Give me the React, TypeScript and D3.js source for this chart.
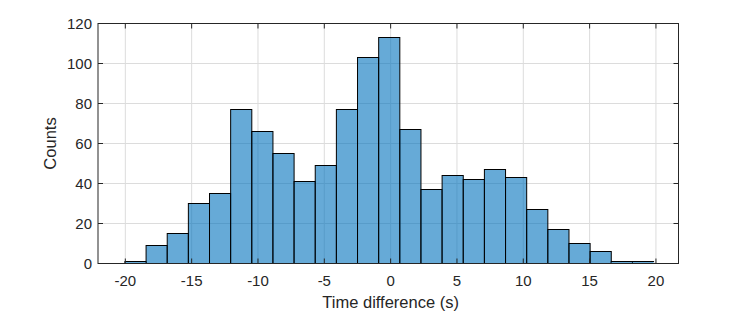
import React from "react";
import * as d3 from "d3";

// histogram counts, 25 bins starting at binStart
const counts = [1, 9, 15, 30, 35, 77, 66, 55, 41, 49, 77, 103, 113, 67, 37, 44, 42, 47, 43, 27, 17, 10, 6, 1, 1];
const binStart = -20.03;
const binWidth = 1.594;
const xTicks = [-20, -15, -10, -5, 0, 5, 10, 15, 20];
const yTicks = [0, 20, 40, 60, 80, 100, 120];

const W = 750;
const H = 312;
const margin = { top: 23.5, right: 71.5, bottom: 48.5, left: 98 };
const font = "Arial, 'Liberation Sans', Helvetica, sans-serif";
const txt = "#262626";

export default function App() {
  const iw = W - margin.left - margin.right;
  const ih = H - margin.top - margin.bottom;

  const x = d3.scaleLinear().domain([-22.06, 21.7]).range([0, iw]);
  const y = d3.scaleLinear().domain([0, 120]).range([ih, 0]);

  const bins = counts.map((c, i) => ({ x0: binStart + i * binWidth, x1: binStart + (i + 1) * binWidth, c }));
  const tick = 5;

  return (
    <svg width={W} height={H} style={{ position: "absolute", left: 0, top: 0, background: "#fff" }}>
      <g transform={`translate(${margin.left},${margin.top})`}>
        {/* grid */}
        {xTicks.map((t) => (
          <line key={"gx" + t} x1={x(t)} x2={x(t)} y1={0} y2={ih} stroke="#dcdcdc" strokeWidth={1} />
        ))}
        {yTicks.map((t) => (
          <line key={"gy" + t} x1={0} x2={iw} y1={y(t)} y2={y(t)} stroke="#dcdcdc" strokeWidth={1} />
        ))}
        {/* bars */}
        {bins.map((b, i) => (
          <rect
            key={i}
            x={x(b.x0)}
            y={y(b.c)}
            width={x(b.x1) - x(b.x0)}
            height={y(0) - y(b.c)}
            fill="#0072BD"
            fillOpacity={0.6}
            stroke="#000"
            strokeWidth={1}
          />
        ))}
        {/* ticks */}
        {xTicks.map((t) => (
          <g key={"tx" + t}>
            <line x1={x(t)} x2={x(t)} y1={ih} y2={ih - tick} stroke={txt} />
            <line x1={x(t)} x2={x(t)} y1={0} y2={tick} stroke={txt} />
            <text x={x(t)} y={ih + 22.5} textAnchor="middle" fontFamily={font} fontSize={15} fill={txt}>
              {t}
            </text>
          </g>
        ))}
        {yTicks.map((t) => (
          <g key={"ty" + t}>
            <line x1={0} x2={tick} y1={y(t)} y2={y(t)} stroke={txt} />
            <line x1={iw} x2={iw - tick} y1={y(t)} y2={y(t)} stroke={txt} />
            <text x={-6} y={y(t)} dy="0.35em" textAnchor="end" fontFamily={font} fontSize={15} fill={txt}>
              {t}
            </text>
          </g>
        ))}
        {/* box */}
        <rect x={0} y={0} width={iw} height={ih} fill="none" stroke={txt} strokeWidth={1} />
        <text x={x(0)} y={ih + 44.5} textAnchor="middle" fontFamily={font} fontSize={16.5} fill={txt}>
          Time difference (s)
        </text>
        <text
          transform={`translate(${-42},${ih / 2}) rotate(-90)`}
          textAnchor="middle"
          fontFamily={font}
          fontSize={16.5}
          fill={txt}
        >
          Counts
        </text>
      </g>
    </svg>
  );
}
